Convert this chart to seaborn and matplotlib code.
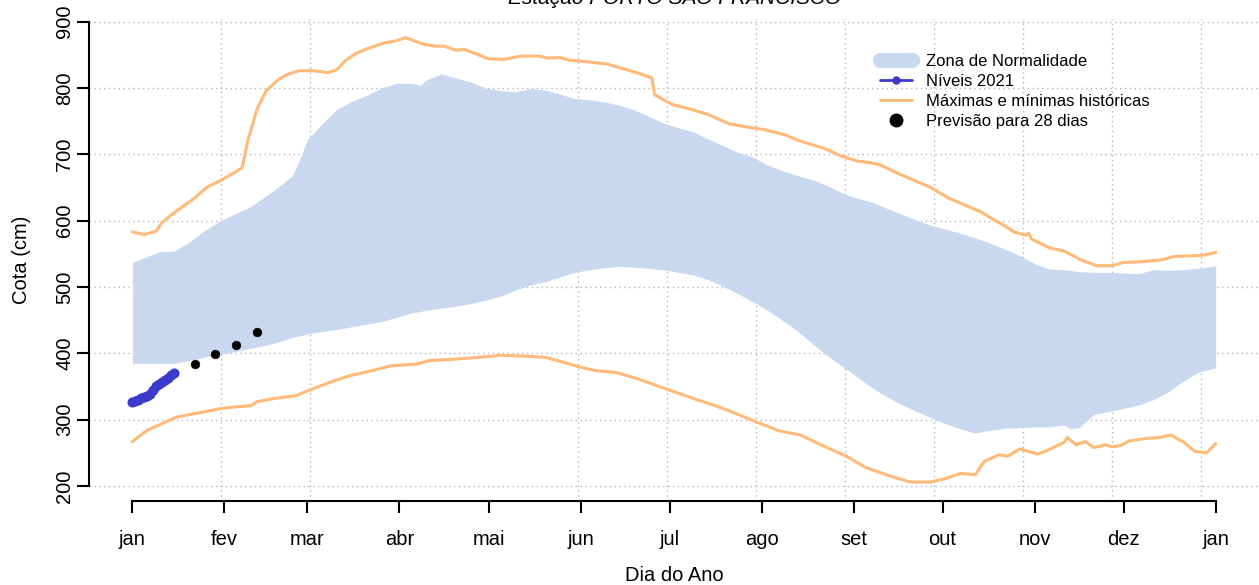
import numpy as np
import pandas as pd
import seaborn as sns
import matplotlib.pyplot as plt
from matplotlib.lines import Line2D

# Months (tick positions are the day of year where each month starts)
meses = ["jan", "fev", "mar", "abr", "mai", "jun", "jul", "ago", "set", "out", "nov", "dez", "jan"]
meses_dias = [1, 32, 60, 91, 121, 152, 182, 213, 244, 274, 305, 335, 366]
grade_dias = [1, 31, 61, 91, 121, 151, 181, 211, 241, 271, 301, 331, 361]
cotas_ticks = [200, 300, 400, 500, 600, 700, 800, 900]

# Zona de normalidade (upper / lower limits)
zona_dias = [1, 5, 10, 15, 20, 25, 30, 35, 40, 45, 50, 55, 58, 60, 65, 70, 75, 80, 85, 90,
             95, 98, 100, 105, 110, 115, 120, 125, 130, 135, 140, 145, 150, 155, 160, 165,
             170, 175, 180, 185, 190, 195, 200, 205, 210, 215, 220, 225, 230, 235, 240, 245,
             250, 255, 260, 265, 270, 275, 280, 285, 290, 295, 300, 305, 310, 315, 317, 320,
             325, 330, 335, 340, 345, 350, 355, 360, 366]
zona_sup = [537, 544, 553, 554, 567, 584, 598, 609, 619, 634, 650, 668, 699, 722, 746, 768,
            780, 789, 800, 807, 807, 804, 812, 821, 815, 809, 800, 796, 794, 799, 797, 791,
            784, 782, 779, 774, 767, 757, 747, 740, 734, 723, 713, 703, 696, 684, 675, 668,
            662, 653, 642, 634, 628, 619, 610, 601, 593, 587, 581, 574, 566, 557, 547, 535,
            527, 526, 525, 523, 522, 522, 521, 520, 526, 525, 526, 528, 532]
zona_inf = [385, 385, 385, 385, 389, 394, 398, 402, 407, 411, 417, 424, 427, 429, 433, 436,
            440, 444, 448, 454, 461, 463, 465, 468, 471, 475, 480, 486, 495, 503, 508, 515,
            522, 526, 529, 531, 530, 528, 526, 522, 518, 511, 501, 490, 478, 465, 450, 434,
            415, 397, 381, 365, 349, 335, 323, 313, 303, 294, 286, 280, 284, 287, 288, 289,
            289, 292, 286, 288, 308, 312, 317, 322, 330, 342, 358, 371, 378]

# Maximas historicas
max_dias = [1, 5, 9, 11, 14, 17, 22, 26, 31, 36, 38, 40, 43, 46, 50, 53, 57, 62, 67, 70,
            73, 76, 80, 84, 86, 90, 93, 96, 99, 103, 106, 110, 113, 117, 121, 126, 132, 138,
            141, 145, 148, 153, 161, 164, 171, 176, 177, 180, 183, 189, 195, 202, 207, 214,
            221, 226, 234, 240, 245, 250, 253, 259, 270, 276, 287, 291, 295, 298, 302, 303,
            304, 310, 315, 321, 326, 331, 335, 341, 348, 352, 358, 362, 366]
max_cota = [583, 579, 584, 597, 608, 618, 634, 650, 661, 674, 680, 722, 768, 795, 812, 820,
            826, 826, 823, 828, 842, 851, 859, 865, 868, 871, 876, 871, 866, 863, 863, 857,
            858, 851, 844, 843, 848, 848, 845, 846, 842, 840, 836, 832, 823, 815, 790, 782,
            775, 768, 760, 746, 742, 737, 729, 720, 709, 697, 690, 687, 684, 671, 650, 634,
            613, 602, 592, 583, 578, 581, 572, 559, 554, 540, 532, 532, 537, 538, 541, 546,
            547, 548, 552]

# Minimas historicas
min_dias = [1, 6, 11, 16, 23, 30, 35, 41, 43, 49, 56, 61, 68, 74, 80, 88, 97, 101, 109, 118,
            125, 132, 140, 146, 152, 157, 164, 171, 181, 190, 200, 211, 219, 226, 233, 242,
            248, 257, 263, 270, 275, 280, 285, 288, 293, 296, 300, 306, 309, 315, 316, 319,
            322, 325, 329, 331, 334, 337, 343, 347, 351, 354, 355, 359, 363, 366]
min_cota = [267, 284, 294, 304, 310, 316, 319, 321, 327, 332, 336, 345, 357, 366, 372, 381,
            384, 389, 391, 394, 397, 396, 394, 387, 379, 374, 371, 362, 346, 332, 317, 297,
            283, 277, 262, 244, 228, 214, 206, 206, 211, 219, 217, 237, 247, 245, 256, 248,
            253, 266, 273, 262, 267, 258, 262, 259, 261, 268, 272, 273, 277, 269, 267, 252,
            250, 264]

# Niveis 2021
niveis_dias = list(range(1, 16))
niveis_cota = [327, 328, 330, 332, 334, 336, 338, 345, 350, 354, 357, 360, 363, 368, 371]

# Previsao para 28 dias
prev_dias = [22, 29, 36, 43]
prev_cota = [384, 399, 412, 432]

cor_zona = "#c8d8ef"
cor_hist = "#ffb978"
cor_niveis = "#3a3acb"

sns.set_style("white")
plt.rcParams["font.family"] = ["Liberation Sans", "DejaVu Sans"]
plt.rcParams["axes.labelcolor"] = "black"
plt.rcParams["text.color"] = "black"

fig = plt.figure(figsize=(12.59, 5.85), dpi=100)
ax = fig.add_axes([0.0707, 0.1443, 0.9293, 0.8233])

ax.fill_between(zona_dias, zona_inf, zona_sup, color=cor_zona, lw=0, zorder=1)
sns.lineplot(x=max_dias, y=max_cota, color=cor_hist, lw=2.2, estimator=None, ax=ax, zorder=3)
sns.lineplot(x=min_dias, y=min_cota, color=cor_hist, lw=2.2, estimator=None, ax=ax, zorder=3)
sns.lineplot(x=niveis_dias, y=niveis_cota, color=cor_niveis, lw=3.5, marker="o", ms=6.5,
             mec=cor_niveis, estimator=None, ax=ax, zorder=4)
sns.scatterplot(x=prev_dias, y=prev_cota, color="black", s=38, edgecolor="black", ax=ax, zorder=5)

ax.set_xlim(-13.6, 380.6)
ax.set_ylim(178, 904)

ax.set_xticks(meses_dias)
ax.set_xticklabels(meses)
ax.set_xticks(grade_dias, minor=True)
ax.set_yticks(cotas_ticks)
ax.set_yticklabels([str(c) for c in cotas_ticks], rotation=90, va="center")

ax.grid(False)
ax.grid(which="minor", axis="x", color="#b4b4b4", ls=(0, (1, 2.5)), lw=1, zorder=0)
ax.grid(which="major", axis="y", color="#b4b4b4", ls=(0, (1, 2.5)), lw=1, zorder=0)
ax.set_axisbelow(True)

for s in ["top", "right"]:
    ax.spines[s].set_visible(False)
ax.spines["left"].set_bounds(200, 900)
ax.spines["bottom"].set_bounds(1, 366)
for s in ["left", "bottom"]:
    ax.spines[s].set_linewidth(1.5)
    ax.spines[s].set_color("black")

ax.tick_params(which="major", direction="out", length=8.5, width=1.5, color="black",
               labelsize=14.5, labelcolor="black", bottom=True, left=True)
ax.tick_params(axis="x", which="major", pad=13)
ax.tick_params(axis="y", which="major", pad=2)
ax.tick_params(which="minor", length=0, bottom=False, left=False)

ax.set_xlabel("Dia do Ano", fontsize=14.5)
ax.set_ylabel("Cota (cm)", fontsize=14.5)
ax.xaxis.label.set_va("center")
ax.yaxis.label.set_va("center")
ax.xaxis.set_label_coords(0.5, -0.155)
ax.yaxis.set_label_coords(-0.058, 0.5)

fig.text(0.536, 0.993, "Estação PORTO SÃO FRANCISCO", ha="center", va="baseline",
         style="italic", fontsize=15)

handles = [
    Line2D([], [], color=cor_zona, lw=11, solid_capstyle="round"),
    Line2D([], [], color=cor_niveis, lw=2, marker="o", ms=5),
    Line2D([], [], color=cor_hist, lw=2),
    Line2D([], [], color="black", lw=0, marker="o", ms=9),
]
labels = ["Zona de Normalidade", "Níveis 2021", "Máximas e mínimas históricas",
          "Previsão para 28 dias"]
ax.legend(handles, labels, loc="upper left", bbox_to_anchor=(880 / 1259, 1 - 54 / 585),
          bbox_transform=fig.transFigure, frameon=False, fontsize=12, numpoints=1,
          handlelength=1.9, handletextpad=0.85, labelspacing=0.3, borderpad=0,
          borderaxespad=0, labelcolor="black")

fig.savefig("out.png", dpi=100)
